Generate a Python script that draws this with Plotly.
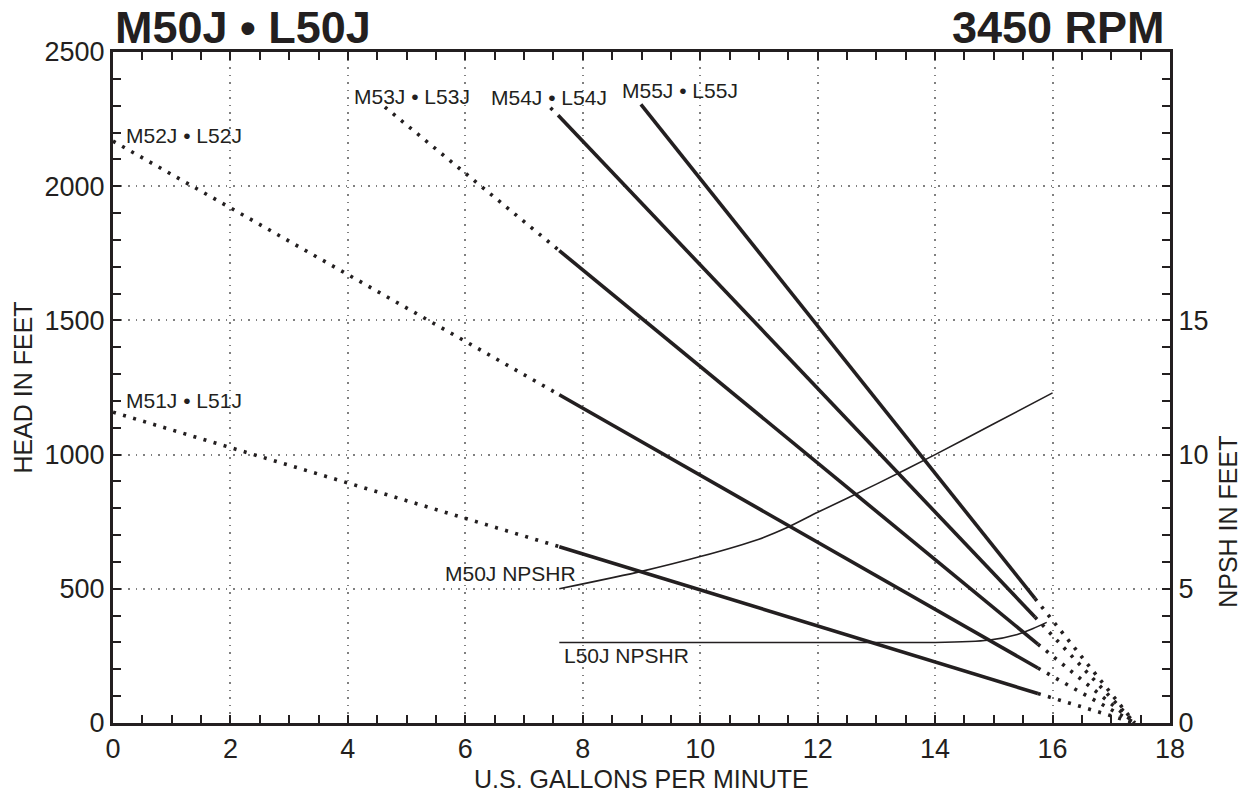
import plotly.graph_objects as go

INK = "#231f20"
GRID = "#808080"
FONT = "Liberation Sans, Arial, Helvetica, sans-serif"

# ---------------- data ----------------
flow_ticks = [0, 2, 4, 6, 8, 10, 12, 14, 16, 18]
head_ticks = [0, 500, 1000, 1500, 2000, 2500]
npsh_labels = ["0", "5", "10", "15"]

# Each head curve: [low-flow start, start of recommended range, end of range, run-out]
m51_flow = [0.0, 7.6, 15.75, 17.4]
m51_head = [1158, 657, 110, 0]
m52_flow = [0.0, 7.6, 15.75, 17.4]
m52_head = [2168, 1223, 205, 0]
m53_flow = [4.63, 7.6, 15.75, 17.4]
m53_head = [2295, 1760, 294, 0]
m54_flow = [7.45, 7.58, 15.7, 17.4]
m54_head = [2292, 2264, 395, 0]
m55_flow = [8.99, 15.7, 17.4]
m55_head = [2305, 464, 0]

m50_npsh_flow = [7.6, 9.0, 10.0, 11.0, 11.5, 12.0, 13.0, 14.0, 15.0, 16.0]
m50_npsh = [5.0, 5.65, 6.2, 6.85, 7.3, 7.85, 8.9, 10.0, 11.15, 12.3]
l50_npsh_flow = [7.6, 14.0, 14.9, 15.4, 15.67, 15.9]
l50_npsh = [3.0, 3.0, 3.08, 3.3, 3.52, 3.75]

model_labels = ["M51J • L51J", "M52J • L52J", "M53J • L53J", "M54J • L54J", "M55J • L55J"]
label_flow = [0.18, 0.18, 4.07, 6.41, 8.63]
label_head = [1200, 2189, 2336, 2330, 2357]

# ---------------- figure ----------------
fig = go.Figure()

DOT = dict(color=INK, width=3.6, dash="3px,7.5px")
SOLID = dict(color=INK, width=3.6)

curves = [(m51_flow, m51_head, True), (m52_flow, m52_head, True),
          (m53_flow, m53_head, True), (m54_flow, m54_head, True),
          (m55_flow, m55_head, False)]

for fl, hd, has_low in curves:
    if has_low:
        fig.add_trace(go.Scatter(x=fl[0:2], y=hd[0:2], mode="lines", line=DOT,
                                 showlegend=False, hoverinfo="skip"))
        fig.add_trace(go.Scatter(x=fl[1:3], y=hd[1:3], mode="lines", line=SOLID,
                                 showlegend=False, hoverinfo="skip"))
        fig.add_trace(go.Scatter(x=fl[2:4], y=hd[2:4], mode="lines", line=DOT,
                                 showlegend=False, hoverinfo="skip"))
    else:
        fig.add_trace(go.Scatter(x=fl[0:2], y=hd[0:2], mode="lines", line=SOLID,
                                 showlegend=False, hoverinfo="skip"))
        fig.add_trace(go.Scatter(x=fl[1:3], y=hd[1:3], mode="lines", line=DOT,
                                 showlegend=False, hoverinfo="skip"))

fig.add_trace(go.Scatter(x=m50_npsh_flow, y=m50_npsh, yaxis="y2", mode="lines",
                         line=dict(color=INK, width=1.6, shape="spline", smoothing=0.6),
                         showlegend=False, hoverinfo="skip"))
fig.add_trace(go.Scatter(x=l50_npsh_flow, y=l50_npsh, yaxis="y2", mode="lines",
                         line=dict(color=INK, width=1.6, shape="spline", smoothing=0.6),
                         showlegend=False, hoverinfo="skip"))

annotations = []
for txt, fx, hy in zip(model_labels, label_flow, label_head):
    annotations.append(dict(x=fx, y=hy, xref="x", yref="y", text=txt, showarrow=False,
                            xanchor="left", yanchor="middle",
                            font=dict(family=FONT, size=21, color=INK)))
annotations.append(dict(x=7.92, y=557, xref="x", yref="y", text="M50J NPSHR", showarrow=False,
                        xanchor="right", yanchor="middle", font=dict(family=FONT, size=21, color=INK)))
annotations.append(dict(x=7.64, y=253, xref="x", yref="y", text="L50J NPSHR", showarrow=False,
                        xanchor="left", yanchor="middle", font=dict(family=FONT, size=21, color=INK)))

# titles
annotations.append(dict(x=0.0, y=1.0, xref="paper", yref="paper", text="<b>M50J • L50J</b>",
                        showarrow=False, xanchor="left", yanchor="bottom", yshift=-3,
                        font=dict(family=FONT, size=45, color=INK)))
annotations.append(dict(x=0.997, y=1.0, xref="paper", yref="paper", text="<b>3450 RPM</b>",
                        showarrow=False, xanchor="right", yanchor="bottom", yshift=-3,
                        font=dict(family=FONT, size=45, color=INK)))
# axis titles
annotations.append(dict(x=0.5, y=-0.083, xref="paper", yref="paper", text="U.S. GALLONS PER MINUTE",
                        showarrow=False, xanchor="center", yanchor="middle",
                        font=dict(family=FONT, size=25, color=INK)))
annotations.append(dict(x=-0.086, y=0.5, xref="paper", yref="paper", text="HEAD IN FEET",
                        showarrow=False, xanchor="center", yanchor="middle", textangle=-90,
                        font=dict(family=FONT, size=25, color=INK)))
annotations.append(dict(x=1.055, y=0.3, xref="paper", yref="paper", text="NPSH IN FEET",
                        showarrow=False, xanchor="center", yanchor="middle", textangle=-90,
                        font=dict(family=FONT, size=25, color=INK)))

npsh_vals = list(range(0, 26))
npsh_text = [str(v) if str(v) in npsh_labels else "" for v in npsh_vals]

# The page body has an 8px margin, so the figure is sized/offset to land on the
# 1254x794 window exactly.
fig.update_layout(
    width=1246, height=786,
    margin=dict(l=105, r=84, t=44, b=71),
    paper_bgcolor="white", plot_bgcolor="white",
    font=dict(family=FONT, color=INK),
    annotations=annotations,
    xaxis=dict(range=[0, 18], tickmode="array", tickvals=flow_ticks,
               ticks="inside", ticklen=8, tickwidth=1.5, tickcolor=INK,
               minor=dict(dtick=0.5, tick0=0, ticks="inside", ticklen=8, tickwidth=1.5,
                          tickcolor=INK, showgrid=False),
               showgrid=True, gridcolor=GRID, gridwidth=1.5, griddash="1.5px,6px",
               showline=True, linewidth=3, linecolor=INK, mirror="ticks",
               zeroline=False, tickfont=dict(size=27, color=INK)),
    yaxis=dict(range=[0, 2500], tickmode="array", tickvals=head_ticks,
               ticks="inside", ticklen=8, tickwidth=1.5, tickcolor=INK,
               minor=dict(dtick=100, tick0=0, ticks="inside", ticklen=8, tickwidth=1.5,
                          tickcolor=INK, showgrid=False),
               showgrid=True, gridcolor=GRID, gridwidth=1.5, griddash="1.5px,6px",
               showline=True, linewidth=3, linecolor=INK,
               zeroline=False, tickfont=dict(size=27, color=INK)),
    yaxis2=dict(range=[0, 25], overlaying="y", side="right", tickmode="array",
                tickvals=npsh_vals, ticktext=npsh_text,
                ticks="inside", ticklen=8, tickwidth=1.5, tickcolor=INK,
                showgrid=False, zeroline=False,
                showline=True, linewidth=3, linecolor=INK,
                tickfont=dict(size=27, color=INK)),
)

fig.write_html("out.html")
